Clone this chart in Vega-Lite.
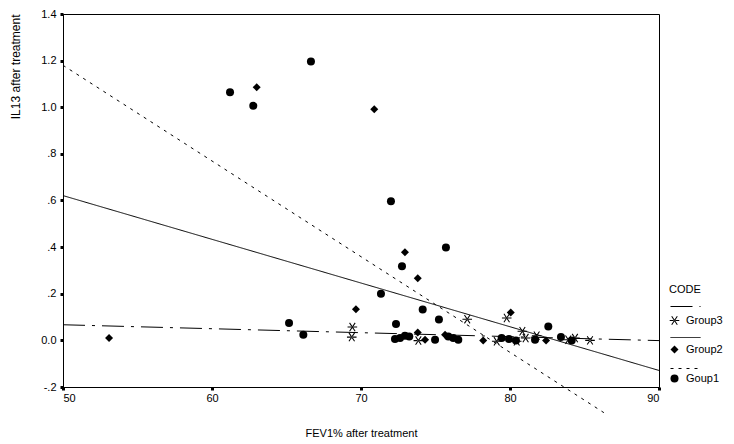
{
  "$schema": "https://vega.github.io/schema/vega-lite/v6.json",
  "autosize": "none",
  "width": 596,
  "height": 373,
  "padding": {"left": 63, "top": 14, "right": 75, "bottom": 57},
  "background": "white",
  "config": {
    "view": {"stroke": "black", "strokeWidth": 1},
    "font": "Liberation Sans",
    "axis": {
      "grid": false,
      "domainColor": "black",
      "tickColor": "black",
      "labelColor": "black",
      "titleColor": "black",
      "labelFontSize": 11,
      "titleFontSize": 11,
      "titleFontWeight": "normal",
      "labelFont": "Liberation Sans",
      "titleFont": "Liberation Sans",
      "tickSize": 3,
      "tickWidth": 3
    },
    "legend": {
      "labelFont": "Liberation Sans",
      "titleFont": "Liberation Sans",
      "labelFontSize": 11,
      "titleFontSize": 11,
      "titleFontWeight": "normal",
      "labelColor": "black",
      "titleColor": "black"
    }
  },
  "datasets": {
    "pts": [
      {"CODE": "Goup1", "FEV1": 61.21, "IL13": 1.064},
      {"CODE": "Goup1", "FEV1": 62.77, "IL13": 1.006},
      {"CODE": "Goup1", "FEV1": 66.64, "IL13": 1.196},
      {"CODE": "Goup1", "FEV1": 72.01, "IL13": 0.597},
      {"CODE": "Goup1", "FEV1": 72.75, "IL13": 0.318},
      {"CODE": "Goup1", "FEV1": 71.34, "IL13": 0.2},
      {"CODE": "Goup1", "FEV1": 75.7, "IL13": 0.398},
      {"CODE": "Goup1", "FEV1": 74.14, "IL13": 0.132},
      {"CODE": "Goup1", "FEV1": 75.23, "IL13": 0.09},
      {"CODE": "Goup1", "FEV1": 65.17, "IL13": 0.074},
      {"CODE": "Goup1", "FEV1": 66.13, "IL13": 0.024},
      {"CODE": "Goup1", "FEV1": 72.35, "IL13": 0.07},
      {"CODE": "Goup1", "FEV1": 72.28, "IL13": 0.006},
      {"CODE": "Goup1", "FEV1": 72.62, "IL13": 0.01},
      {"CODE": "Goup1", "FEV1": 72.95, "IL13": 0.02},
      {"CODE": "Goup1", "FEV1": 73.24, "IL13": 0.017},
      {"CODE": "Goup1", "FEV1": 74.97, "IL13": 0.003},
      {"CODE": "Goup1", "FEV1": 75.86, "IL13": 0.017},
      {"CODE": "Goup1", "FEV1": 76.19, "IL13": 0.01},
      {"CODE": "Goup1", "FEV1": 76.53, "IL13": 0.003},
      {"CODE": "Goup1", "FEV1": 79.44, "IL13": 0.01},
      {"CODE": "Goup1", "FEV1": 79.93, "IL13": 0.006},
      {"CODE": "Goup1", "FEV1": 80.4, "IL13": -0.001},
      {"CODE": "Goup1", "FEV1": 81.68, "IL13": 0.003},
      {"CODE": "Goup1", "FEV1": 82.57, "IL13": 0.06},
      {"CODE": "Goup1", "FEV1": 83.42, "IL13": 0.014},
      {"CODE": "Goup1", "FEV1": 84.14, "IL13": 0.0},
      {"CODE": "Group2", "FEV1": 53.09, "IL13": 0.01},
      {"CODE": "Group2", "FEV1": 63.0, "IL13": 1.086},
      {"CODE": "Group2", "FEV1": 70.89, "IL13": 0.991},
      {"CODE": "Group2", "FEV1": 72.95, "IL13": 0.378},
      {"CODE": "Group2", "FEV1": 73.81, "IL13": 0.266},
      {"CODE": "Group2", "FEV1": 69.66, "IL13": 0.133},
      {"CODE": "Group2", "FEV1": 80.05, "IL13": 0.12},
      {"CODE": "Group2", "FEV1": 73.81, "IL13": 0.034},
      {"CODE": "Group2", "FEV1": 74.3, "IL13": 0.003},
      {"CODE": "Group2", "FEV1": 75.64, "IL13": 0.024},
      {"CODE": "Group2", "FEV1": 78.2, "IL13": -0.001},
      {"CODE": "Group2", "FEV1": 82.42, "IL13": 0.0},
      {"CODE": "Group3", "FEV1": 69.42, "IL13": 0.057},
      {"CODE": "Group3", "FEV1": 69.38, "IL13": 0.014},
      {"CODE": "Group3", "FEV1": 77.13, "IL13": 0.091},
      {"CODE": "Group3", "FEV1": 79.78, "IL13": 0.096},
      {"CODE": "Group3", "FEV1": 80.83, "IL13": 0.039},
      {"CODE": "Group3", "FEV1": 81.05, "IL13": 0.01},
      {"CODE": "Group3", "FEV1": 81.79, "IL13": 0.02},
      {"CODE": "Group3", "FEV1": 73.85, "IL13": -0.001},
      {"CODE": "Group3", "FEV1": 79.11, "IL13": -0.004},
      {"CODE": "Group3", "FEV1": 80.45, "IL13": -0.004},
      {"CODE": "Group3", "FEV1": 83.91, "IL13": 0.003},
      {"CODE": "Group3", "FEV1": 84.36, "IL13": 0.01},
      {"CODE": "Group3", "FEV1": 85.37, "IL13": 0.0}
    ],
    "fits": [
      {"fit": "g3", "FEV1": 50, "IL13": 0.067},
      {"fit": "g3", "FEV1": 90, "IL13": -0.001},
      {"fit": "g2", "FEV1": 50, "IL13": 0.621},
      {"fit": "g2", "FEV1": 90, "IL13": -0.129},
      {"fit": "g1", "FEV1": 50, "IL13": 1.18},
      {"fit": "g1", "FEV1": 86.3, "IL13": -0.31}
    ]
  },
  "encoding": {
    "x": {
      "field": "FEV1", "type": "quantitative",
      "scale": {"domain": [50, 90], "nice": false, "zero": false},
      "axis": {"values": [50, 60, 70, 80, 90], "title": "FEV1% after treatment", "labelPadding": 2, "titlePadding": 24}
    },
    "y": {
      "field": "IL13", "type": "quantitative",
      "scale": {"domain": [-0.2, 1.4], "nice": false, "zero": false},
      "axis": {
        "values": [-0.2, 0, 0.2, 0.4, 0.6, 0.8, 1.0, 1.2, 1.4],
        "labelExpr": "datum.value == 0 ? '0.0' : (abs(datum.value) < 1 ? replace(replace(format(datum.value, '.1f'), '0.', '.'), '\u2212', '-') : format(datum.value, '.1f'))",
        "title": "IL13 after treatment",
        "titleAnchor": "end",
        "titleFontSize": 12,
        "labelPadding": 4,
        "titlePadding": 18
      }
    }
  },
  "layer": [
    {
      "data": {"name": "fits"},
      "mark": {"type": "line", "color": "black", "strokeWidth": 1, "clip": false},
      "encoding": {
        "strokeDash": {
          "field": "fit", "type": "nominal",
          "scale": {"domain": ["g3", "g2", "g1"], "range": [[22, 7, 3, 7], [1, 0], [3, 5]]},
          "legend": {
            "orient": "none", "legendX": 607, "legendY": 277,
            "title": null, "labelExpr": "''",
            "symbolType": "stroke", "symbolSize": 900,
            "symbolStrokeColor": "black", "symbolStrokeWidth": 1,
            "rowPadding": 10
          }
        }
      }
    },
    {
      "data": {"name": "pts"},
      "mark": {"type": "point", "color": "black", "size": 64, "opacity": 1, "filled": true},
      "encoding": {
        "shape": {
          "field": "CODE", "type": "nominal",
          "scale": {
            "domain": ["Group3", "Group2", "Goup1"],
            "range": ["M-1.2,-0.13H1.2V0.13H-1.2ZM-0.808,-0.978L0.592,1.122L0.808,0.978L-0.592,-1.122ZM-0.592,1.122L0.808,-0.978L0.592,-1.122L-0.808,0.978Z", "diamond", "circle"]
          },
          "legend": {
            "orient": "none", "legendX": 606, "legendY": 270,
            "title": "CODE", "titlePadding": 20,
            "symbolFillColor": "black",
            "symbolSize": 64, "rowPadding": 14, "labelOffset": 6,
            "symbolOpacity": 1
          }
        }
      }
    }
  ]
}
